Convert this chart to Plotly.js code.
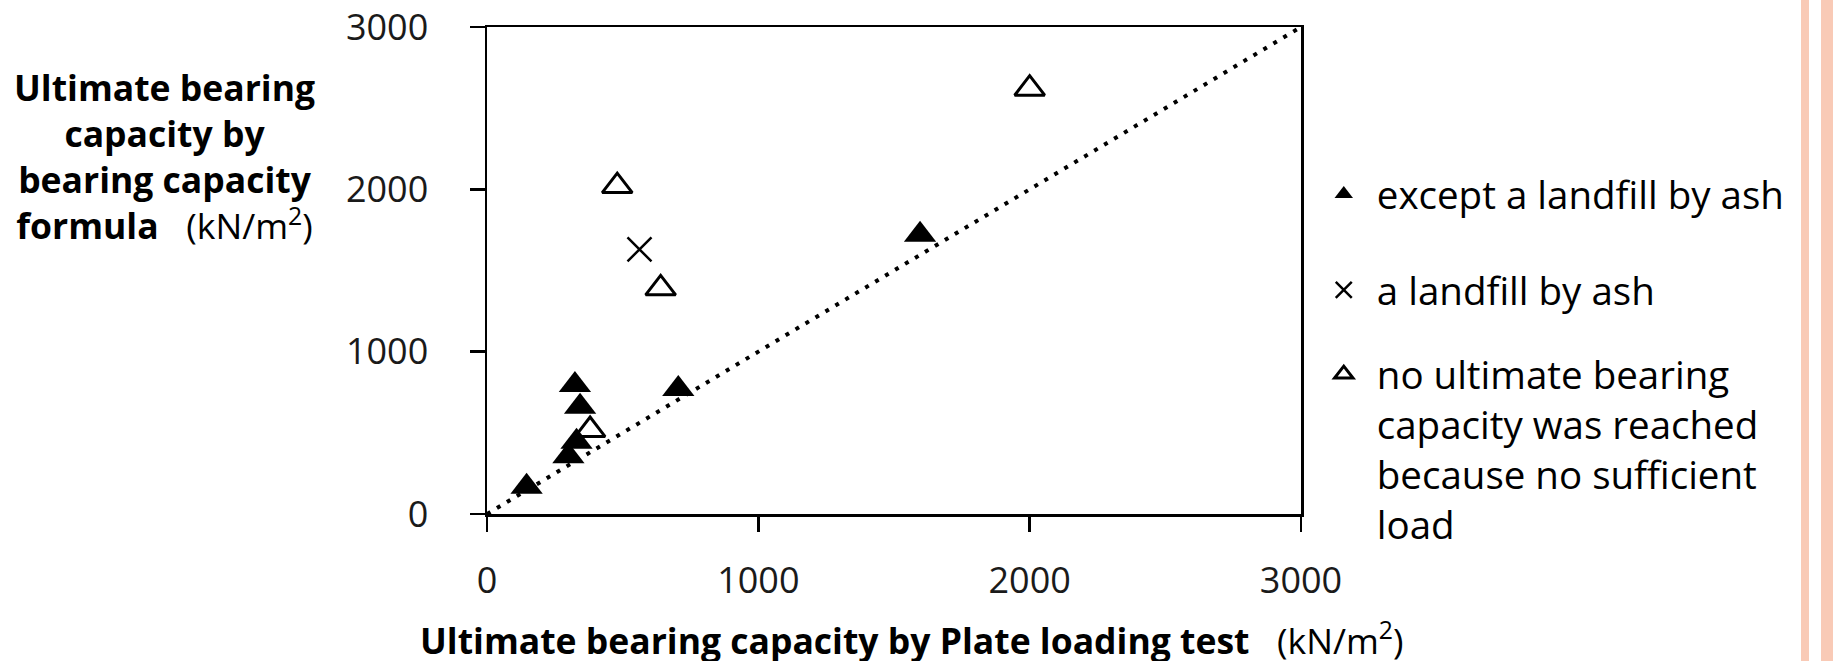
<!DOCTYPE html>
<html>
<head>
<meta charset="utf-8">
<script src="https://cdn.plot.ly/plotly-3.0.1.min.js"></script>
<style>
  html, body { margin: 0; padding: 0; background: #ffffff; }
  #chart { width: 1833px; height: 661px; }
</style>
</head>
<body>
<div id="chart"></div>
<script>
// Ultimate bearing capacity: plate loading test (x) vs. bearing capacity formula (y), kN/m2
const filledX = [146, 300, 330, 343, 324, 705, 1596];
const filledY = [168, 355, 445, 661, 794, 770, 1720];
const ashX = [562];
const ashY = [1630];
const openX = [2000, 480, 640, 380];
const openY = [2620, 2020, 1390, 517];
const lineX = [0, 3000];
const lineY = [0, 3000];
const tickVals = [0, 1000, 2000, 3000];
const tickText = ['0', '1000', '2000', '3000'];

const seriesNames = [
  'except a landfill by ash',
  'a landfill by ash',
  'no ultimate bearing<br>capacity was reached<br>because no sufficient<br>load'
];

const FONT = 'Open Sans, Noto Sans, sans-serif';
const NB = '\u00A0';

const traces = [
  {
    // 1:1 reference line
    x: lineX, y: lineY, type: 'scatter', mode: 'lines',
    line: { color: '#000000', width: 4, dash: '4px,7.6px' },
    showlegend: false, hoverinfo: 'skip'
  },
  {
    x: openX, y: openY, type: 'scatter', mode: 'markers',
    name: seriesNames[2], legend: 'legend3',
    marker: { symbol: 'triangle-up', size: 26, color: '#ffffff',
              line: { color: '#000000', width: 3 } }
  },
  {
    x: ashX, y: ashY, type: 'scatter', mode: 'markers',
    name: seriesNames[1], legend: 'legend2',
    marker: { symbol: 'x-thin-open', size: 24, color: '#000000',
              line: { color: '#000000', width: 2.5 } }
  },
  {
    x: filledX, y: filledY, type: 'scatter', mode: 'markers',
    name: seriesNames[0], legend: 'legend',
    marker: { symbol: 'triangle-up', size: 28, color: '#000000',
              line: { width: 0 } }
  }
];

const axisCommon = {
  range: [0, 3000],
  tickvals: tickVals,
  ticktext: tickText,
  ticks: 'outside',
  ticklen: 15,
  tickwidth: 2.5,
  tickcolor: '#000000',
  showline: true,
  linecolor: '#000000',
  linewidth: 2.5,
  mirror: true,
  showgrid: false,
  zeroline: false,
  tickfont: { family: FONT, size: 36, color: '#1a1a1a' },
  fixedrange: true
};

// one legend box per series so each entry sits at its own height
function legendAt(yTop) {
  return {
    x: 1.012, xanchor: 'left',
    y: yTop, yanchor: 'top',
    font: { family: FONT, size: 38.5, color: '#000000' },
    bgcolor: 'rgba(0,0,0,0)',
    borderwidth: 0,
    itemwidth: 56,
    valign: 'top'
  };
}

const layout = {
  width: 1833,
  height: 661,
  margin: { l: 487, r: 532, t: 27, b: 147, pad: 0 },
  paper_bgcolor: '#ffffff',
  plot_bgcolor: '#ffffff',
  font: { family: FONT, color: '#000000' },
  xaxis: Object.assign({}, axisCommon, { ticklabelstandoff: 18 }),
  yaxis: Object.assign({}, axisCommon, { ticklabelstandoff: 34 }),
  showlegend: true,
  legend: legendAt(0.722),
  legend2: legendAt(0.525),
  legend3: legendAt(0.352),
  annotations: [
    {
      xref: 'paper', yref: 'paper',
      x: -0.3956, y: 0.735, xanchor: 'center', yanchor: 'middle',
      align: 'center', showarrow: false,
      font: { family: FONT, size: 35.5, color: '#000000' },
      text: '<b>Ultimate bearing</b><br><b>capacity by</b><br><b>bearing capacity</b><br><b>formula</b>' +
            NB + NB + NB + '(kN/m<sup>2</sup>)'
    },
    {
      xref: 'paper', yref: 'paper',
      x: 0.5227, y: -0.255, xanchor: 'center', yanchor: 'middle',
      showarrow: false,
      font: { family: FONT, size: 35.5, color: '#000000' },
      text: '<b>Ultimate bearing capacity by Plate loading test</b>' + NB + NB + NB + '(kN/m<sup>2</sup>)'
    }
  ],
  shapes: [
    // slide edge stripes
    { type: 'rect', xref: 'paper', yref: 'paper', layer: 'above',
      x0: (1801 - 487) / 814, x1: (1809 - 487) / 814, y0: -0.31, y1: 1.06,
      fillcolor: '#F9CAB6', line: { width: 0 } },
    { type: 'rect', xref: 'paper', yref: 'paper', layer: 'above',
      x0: (1821 - 487) / 814, x1: (1834 - 487) / 814, y0: -0.31, y1: 1.06,
      fillcolor: '#F9CAB6', line: { width: 0 } }
  ]
};

Plotly.newPlot('chart', traces, layout, { displayModeBar: false, staticPlot: true });
</script>
</body>
</html>
